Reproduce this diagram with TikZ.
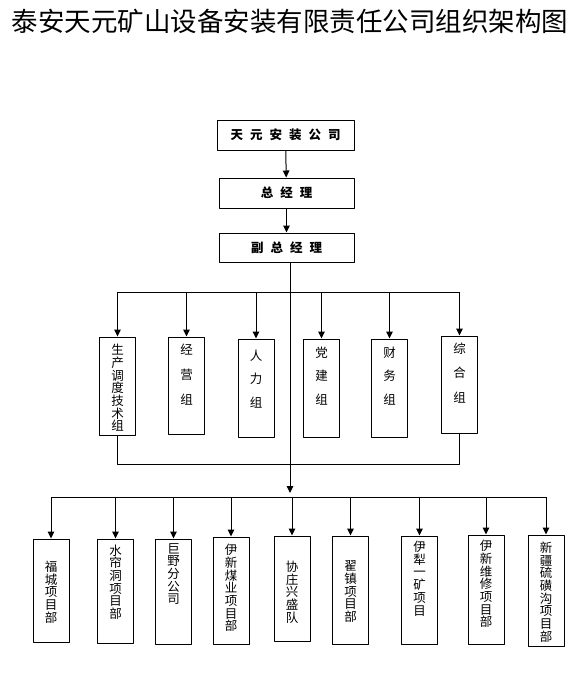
\documentclass[tikz,border=0pt]{standalone}
\usepackage{fontspec}
\setmainfont{Noto Sans CJK SC}
\usetikzlibrary{arrows.meta}
\tikzset{
  headbox/.style={draw,line width=1pt,minimum width=135pt,minimum height=30pt,inner sep=0pt,font=\fontsize{12.5}{13}\selectfont\bfseries},
  colbox/.style={draw,line width=1pt,minimum width=36pt,inner sep=0pt},
  coltext/.style={align=center,inner sep=0pt,font=\fontsize{12.5}{12.7}\selectfont},
  arr/.style={-{Triangle[length=7pt,width=6.5pt]}}
}
\begin{document}
\begin{tikzpicture}[x=1pt,y=-1pt,line width=1pt,line join=round]
\useasboundingbox (0,0) rectangle (582,680);
\node[inner sep=0pt,font=\fontsize{26.5}{28}\selectfont] (title) at (290,21) {泰安天元矿山设备安装有限责任公司组织架构图};
% top of the chart
\node[headbox,minimum width=137pt] (top) at (285.5,135) {天\hspace{7pt}元\hspace{7pt}安\hspace{7pt}装\hspace{7pt}公\hspace{7pt}司};
\node[headbox] (gm) at (286.5,193) {总\hspace{7pt}经\hspace{7pt}理};
\node[headbox,minimum height=29pt] (vgm) at (286.5,247.5) {副\hspace{7pt}总\hspace{7pt}经\hspace{7pt}理};
\draw[arr] (top) -- (gm);
\draw[arr] (gm) -- (vgm);
\coordinate (bus1) at (290,292);
\coordinate (bk) at (290,464);
\coordinate (bus2) at (290,497);
% groups
\foreach \n/\x/\y/\h/\ty/\t in {
  1/117.5/386/98/388/{生\\产\\调\\度\\技\\术\\组},
  2/186.5/385.5/97/374.5/{经\\[12pt]营\\[12pt]组},
  3/256/388/98/379/{人\\[11pt]力\\[11pt]组},
  4/321.5/388/98/376/{党\\[11pt]建\\[11pt]组},
  5/389.5/388/98/376/{财\\[11pt]务\\[11pt]组},
  6/459.5/384.5/97/373/{综\\[12pt]合\\[12pt]组}}{
  \node[colbox,minimum height=\h pt] (m\n) at (\x,\y) {};
  \node[coltext] (tm\n) at (\x,\ty) {\t};
}
\draw (m1.north |- bus1) -- (m6.north |- bus1);
\foreach \n in {1,...,6}{
  \draw[arr] (m\n.north |- bus1) -- (m\n.north);
}
\draw (m1.south) -- (m1.south |- bk) -- (m6.south |- bk) -- (m6.south);
% projects
\draw[arr,shorten >=4pt] (vgm.south -| bus2) -- (bus2);
\foreach \n/\x/\y/\h/\ty/\t in {
  1/51/590.5/103/592/{福\\城\\项\\目\\部},
  2/115.5/591/104/582/{水\\帘\\洞\\项\\目\\部},
  3/173.5/591.5/105/574/{巨\\野\\分\\公\\司},
  4/231/590.5/107/588/{伊\\新\\煤\\业\\项\\目\\部},
  5/292/588.5/105/592/{协\\庄\\兴\\盛\\队},
  6/350.5/590/108/591.5/{翟\\镇\\项\\目\\部},
  7/419.5/590/108/578.5/{伊\\犁\\一\\矿\\项\\目},
  8/486/589.5/109/584/{伊\\新\\维\\修\\项\\目\\部},
  9/546/590.5/111/592/{新\\疆\\硫\\磺\\沟\\项\\目\\部}}{
  \node[colbox,minimum height=\h pt] (b\n) at (\x,\y) {};
  \node[coltext] (tb\n) at (\x,\ty) {\t};
}
\draw (b1.north |- bus2) -- (b9.north |- bus2);
\foreach \n in {1,...,9}{
  \draw[arr] (b\n.north |- bus2) -- (b\n.north);
}
\end{tikzpicture}
\end{document}
